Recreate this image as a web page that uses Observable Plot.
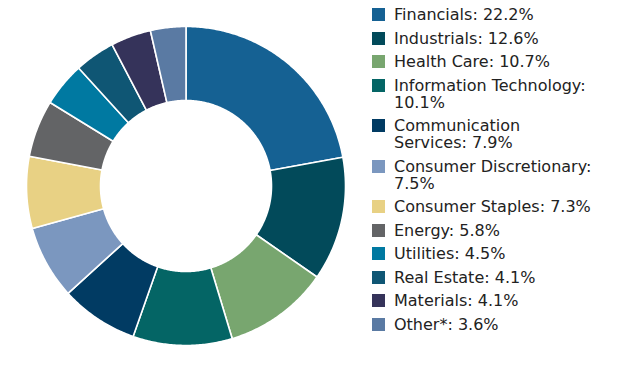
<!DOCTYPE html>
<html>
<head>
<meta charset="utf-8">
<script src="https://cdn.jsdelivr.net/npm/d3@7"></script>
<script src="https://cdn.jsdelivr.net/npm/@observablehq/plot@0.6"></script>
<style>
  html, body { margin: 0; padding: 0; background: #fff; }
  #wrap { position: relative; width: 627px; height: 371px; }
  #chart { position: absolute; left: 0; top: 0; }
  #legend { position: absolute; left: 372px; top: 6px; width: 250px;
    font-family: "DejaVu Sans", sans-serif; font-size: 16px; color: #222; }
  .item { display: flex; align-items: flex-start; margin-bottom: 6.5px; line-height: 17px; }
  .sw { width: 13px; height: 13px; flex: none; margin-top: 2px; margin-right: 9px; }
  .txt { width: 199px; }
</style>
</head>
<body>
<div id="wrap"><div id="chart"></div><div id="legend"></div></div>
<script>
const sectors = ["Financials", "Industrials", "Health Care", "Information Technology",
  "Communication Services", "Consumer Discretionary", "Consumer Staples", "Energy",
  "Utilities", "Real Estate", "Materials", "Other*"];
const weights = [22.2, 12.6, 10.7, 10.1, 7.9, 7.5, 7.3, 5.8, 4.5, 4.1, 4.1, 3.6];
const colors = ["#156193", "#024a5a", "#78a66f", "#046565", "#013b63", "#7b97bf",
  "#e8d184", "#636466", "#0079a1", "#0f5674", "#35335a", "#5a7aa3"];

const innerRatio = 85.5 / 159.5;
const pie = d3.pie().sort(null).value(d => d.value)(sectors.map((s, i) => ({name: s, value: weights[i]})));
const pts = [];
for (const p of pie) {
  const n = Math.max(2, Math.ceil((p.endAngle - p.startAngle) / 0.01));
  for (let k = 0; k <= n; k++) {
    const a = p.startAngle + (p.endAngle - p.startAngle) * k / n;
    pts.push({name: p.data.name, x: Math.sin(a), y: Math.cos(a)});
  }
  for (let k = n; k >= 0; k--) {
    const a = p.startAngle + (p.endAngle - p.startAngle) * k / n;
    pts.push({name: p.data.name, x: innerRatio * Math.sin(a), y: innerRatio * Math.cos(a)});
  }
}
const R = 185.5 / 159.5;
const chart = Plot.plot({
  width: 371, height: 371, margin: 0,
  x: {domain: [-R, R], axis: null},
  y: {domain: [-R, R], axis: null},
  color: {domain: sectors, range: colors},
  marks: [
    Plot.line(pts, {x: "x", y: "y", z: "name", fill: "name", stroke: "white",
      strokeWidth: 1.6, curve: "linear-closed"})
  ]
});
document.getElementById("chart").appendChild(chart);

const legend = document.getElementById("legend");
sectors.forEach((s, i) => {
  const item = document.createElement("div");
  item.className = "item";
  const sw = document.createElement("div");
  sw.className = "sw";
  sw.style.background = chart.scale("color").apply(s);
  const t = document.createElement("div");
  t.className = "txt";
  t.textContent = `${s}: ${weights[i]}%`;
  item.appendChild(sw); item.appendChild(t);
  legend.appendChild(item);
});
</script>
</body>
</html>
